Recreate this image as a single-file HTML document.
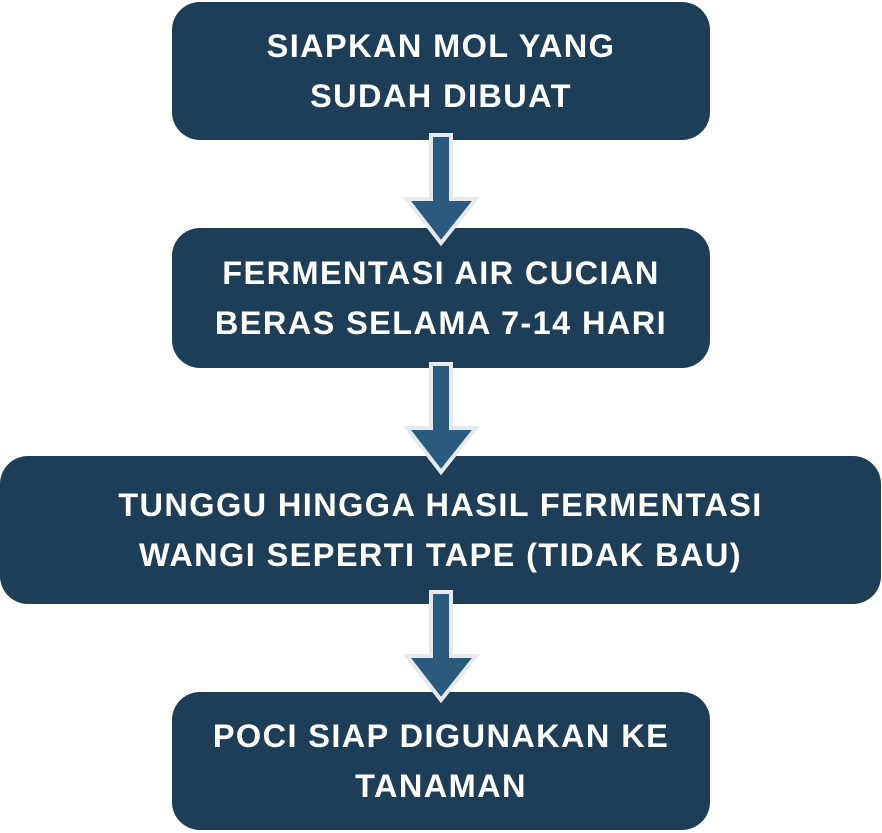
<!DOCTYPE html>
<html><head><style>
body{margin:0;width:882px;height:833px;background:#fff;position:relative;overflow:hidden;font-family:"Liberation Sans",sans-serif}
.b{position:absolute;background:#1e3d56;border-radius:28px;color:#fff;font-weight:bold;font-size:32.5px;letter-spacing:1.4px;line-height:50px;text-align:center;display:flex;align-items:center;justify-content:center}
svg{position:absolute;left:0;top:0}
</style></head><body>
<div class="b" style="left:172px;top:2px;width:538px;height:138px">SIAPKAN MOL YANG<br>SUDAH DIBUAT</div>
<div class="b" style="left:172px;top:228px;width:538px;height:140px">FERMENTASI AIR CUCIAN<br>BERAS SELAMA 7-14 HARI</div>
<div class="b" style="left:0px;top:456px;width:881px;height:148px">TUNGGU HINGGA HASIL FERMENTASI<br>WANGI SEPERTI TAPE (TIDAK BAU)</div>
<div class="b" style="left:172px;top:692px;width:538px;height:138px">POCI SIAP DIGUNAKAN KE<br>TANAMAN</div>
<svg width="882" height="833">
<g fill="#2a5b7f" stroke="#e6eaed" stroke-width="4" stroke-linejoin="miter">
<path d="M431,135 H451 V199 H476 L441,243 L407,199 H431 Z"/>
<path d="M431,364 H451 V428 H476 L441,472 L407,428 H431 Z"/>
<path d="M431,592 H451 V656 H476 L441,700 L407,656 H431 Z"/>
</g>
</svg>
</body></html>
